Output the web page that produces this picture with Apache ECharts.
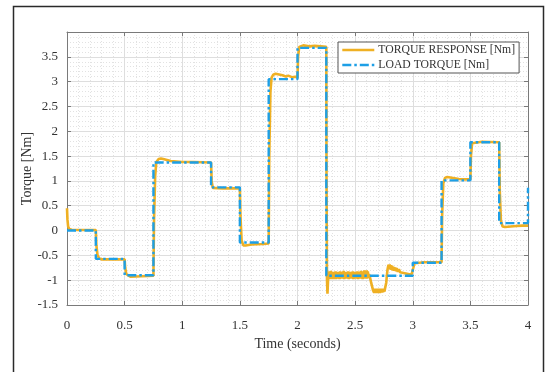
<!DOCTYPE html>
<html>
<head>
<meta charset="utf-8">
<script src="https://cdn.jsdelivr.net/npm/echarts@6/dist/echarts.min.js"></script>
<style>
html,body{margin:0;padding:0;background:#fff;}
#chart{width:547px;height:372px;}
</style>
</head>
<body>
<div id="chart"></div>
<script>
// ---- data ----
var seriesNames = ['TORQUE RESPONSE [Nm]', 'LOAD TORQUE [Nm]'];
var xTicks = [0, 0.5, 1, 1.5, 2, 2.5, 3, 3.5, 4];
var yTicks = [-1.5, -1, -0.5, 0, 0.5, 1, 1.5, 2, 2.5, 3, 3.5];

// load torque: step times and values (value holds from time until next time)
var loadTimes  = [0, 0.25, 0.5, 0.75, 1.25, 1.5, 1.75, 2.0, 2.25, 3.0, 3.25, 3.5, 3.75, 4.0];
var loadValues = [0, -0.57, -0.90, 1.37, 0.87, -0.24, 3.05, 3.68, -0.91, -0.65, 1.01, 1.78, 0.15, 0.86];

// torque response: [time, value]
var response = [
 [0,0.45],[0.004,0.22],[0.01,0.08],[0.02,0.03],[0.04,0.015],[0.1,0.01],[0.25,0.01],
 [0.255,-0.3],[0.265,-0.5],[0.28,-0.56],[0.3,-0.58],[0.4,-0.58],[0.5,-0.58],
 [0.505,-0.75],[0.515,-0.88],[0.53,-0.92],[0.55,-0.93],[0.65,-0.92],[0.75,-0.91],
 [0.755,0.2],[0.765,1.1],[0.775,1.38],[0.785,1.42],[0.795,1.44],[0.805,1.42],[0.815,1.45],[0.825,1.42],
 [0.835,1.44],[0.85,1.42],[0.9,1.40],[0.95,1.39],[1.0,1.38],[1.1,1.38],[1.25,1.37],
 [1.255,1.0],[1.265,0.86],[1.28,0.84],[1.35,0.85],[1.5,0.85],
 [1.505,0.3],[1.515,-0.2],[1.53,-0.3],[1.55,-0.3],[1.6,-0.28],[1.7,-0.27],[1.75,-0.26],
 [1.755,1.5],[1.765,2.8],[1.775,3.08],[1.78,3.09],[1.79,3.14],[1.80,3.11],[1.81,3.16],[1.82,3.12],
 [1.83,3.15],[1.84,3.11],[1.85,3.14],[1.86,3.10],[1.87,3.13],[1.90,3.10],[1.92,3.12],[1.95,3.09],[1.98,3.10],[2.0,3.08],
 [2.005,3.5],[2.015,3.70],[2.05,3.73],[2.1,3.71],[2.15,3.72],[2.2,3.71],[2.25,3.70],
 [2.252,1.0],[2.256,-1.0],[2.26,-1.27],[2.265,-1.0],
 [2.270,-0.82],[2.275,-0.98],[2.280,-0.84],[2.285,-0.97],[2.290,-0.81],[2.295,-0.98],[2.300,-0.85],[2.305,-0.96],
 [2.310,-0.83],[2.315,-0.98],[2.320,-0.84],[2.325,-0.95],[2.330,-0.82],[2.335,-0.98],[2.340,-0.86],[2.345,-0.97],
 [2.350,-0.83],[2.355,-0.96],[2.360,-0.84],[2.365,-0.98],[2.370,-0.82],[2.375,-0.95],[2.380,-0.85],[2.385,-0.97],
 [2.390,-0.83],[2.395,-0.96],[2.400,-0.81],[2.405,-0.98],[2.410,-0.84],[2.415,-0.95],[2.420,-0.83],[2.425,-0.97],
 [2.430,-0.85],[2.435,-0.96],[2.440,-0.82],[2.445,-0.98],[2.450,-0.84],[2.455,-0.95],[2.460,-0.83],[2.465,-0.97],
 [2.470,-0.84],[2.475,-0.96],[2.480,-0.82],[2.485,-0.98],[2.490,-0.85],[2.495,-0.95],[2.500,-0.83],[2.505,-0.97],
 [2.510,-0.84],[2.515,-0.96],[2.520,-0.82],[2.525,-0.98],[2.530,-0.83],[2.535,-0.95],[2.540,-0.84],[2.545,-0.97],
 [2.550,-0.81],[2.555,-0.96],[2.560,-0.83],[2.565,-0.98],[2.570,-0.82],[2.575,-0.95],[2.580,-0.80],[2.585,-0.97],
 [2.590,-0.81],[2.595,-0.96],[2.600,-0.80],[2.605,-0.97],[2.610,-0.82],[2.615,-0.95],[2.620,-0.88],
 [2.630,-0.95],[2.640,-1.06],[2.650,-1.15],[2.655,-1.20],[2.660,-1.17],[2.665,-1.25],[2.670,-1.17],[2.675,-1.26],
 [2.680,-1.18],[2.685,-1.25],[2.690,-1.17],[2.695,-1.26],[2.700,-1.18],[2.705,-1.25],[2.710,-1.17],[2.715,-1.26],
 [2.720,-1.18],[2.725,-1.25],[2.730,-1.17],[2.735,-1.25],[2.740,-1.18],[2.745,-1.24],[2.750,-1.17],[2.755,-1.23],
 [2.760,-1.16],[2.765,-1.15],[2.770,-1.05],[2.775,-0.92],[2.780,-0.80],[2.785,-0.74],[2.790,-0.69],[2.795,-0.77],
 [2.800,-0.68],[2.805,-0.78],[2.810,-0.70],[2.815,-0.79],[2.820,-0.71],[2.825,-0.80],[2.830,-0.73],[2.835,-0.81],
 [2.840,-0.74],[2.845,-0.81],[2.850,-0.75],[2.855,-0.82],[2.860,-0.76],[2.870,-0.83],[2.880,-0.78],[2.890,-0.84],
 [2.900,-0.80],[2.910,-0.85],[2.920,-0.82],[2.930,-0.86],[2.940,-0.84],[2.950,-0.87],[2.960,-0.85],[2.970,-0.88],
 [2.980,-0.86],[2.990,-0.88],[3.000,-0.88],
 [3.005,-0.75],[3.015,-0.66],[3.03,-0.64],[3.1,-0.64],[3.25,-0.64],
 [3.255,0.3],[3.265,0.95],[3.28,1.06],[3.3,1.08],[3.35,1.06],[3.4,1.04],[3.45,1.03],[3.5,1.03],
 [3.505,1.5],[3.515,1.76],[3.53,1.80],[3.6,1.79],[3.75,1.78],
 [3.755,0.8],[3.765,0.2],[3.78,0.08],[3.8,0.07],[3.85,0.08],[3.9,0.09],[3.95,0.1],[4.0,0.1]
];

// ---- build step polyline for load torque ----
var loadData = [];
for (var i = 0; i < loadTimes.length; i++) {
  if (i > 0) loadData.push([loadTimes[i], loadValues[i - 1]]);
  loadData.push([loadTimes[i], loadValues[i]]);
}

var FONT = '"Liberation Serif", "Times New Roman", serif';
var ORANGE = '#EFB023';
var BLUE = '#1D9FE6';
var AXIS = '#7a7a7a';

var chart = echarts.init(document.getElementById('chart'), null, {renderer: 'canvas'});

function fmt(v) { return String(v); }

var option = {
  animation: false,
  backgroundColor: '#fff',
  textStyle: {fontFamily: FONT},
  grid: {left: 67, top: 32, right: 19, bottom: 67, containLabel: false},
  graphic: [{
    type: 'rect', left: 11, top: 4, z: 100, silent: true,
    shape: {width: 530, height: 400},
    style: {fill: 'none', stroke: '#2a2a2a', lineWidth: 1.5}
  }],
  legend: {
    orient: 'vertical', left: 338, top: 42,
    data: seriesNames,
    itemWidth: 32, itemHeight: 12, itemGap: 3,
    padding: [2, 4, 2, 3],
    borderColor: '#555', borderWidth: 1, backgroundColor: '#fff',
    itemStyle: {opacity: 0},
    lineStyle: {width: 2.6},
    textStyle: {fontFamily: FONT, fontSize: 11.7, color: '#333', padding: [0, 0, 0, -1]}
  },
  xAxis: [{
    type: 'value', min: 0, max: 4, interval: 0.5, position: 'bottom',
    name: 'Time (seconds)', nameLocation: 'middle', nameGap: 30,
    nameTextStyle: {fontFamily: FONT, fontSize: 14, color: '#333'},
    axisLine: {show: true, onZero: false, lineStyle: {color: AXIS, width: 1}},
    axisTick: {show: true, inside: true, length: 4, lineStyle: {color: AXIS}},
    axisLabel: {fontFamily: FONT, fontSize: 13, color: '#333', margin: 14, formatter: fmt},
    splitLine: {show: true, lineStyle: {color: '#dedede', width: 1}},
    minorTick: {show: false, splitNumber: 5},
    minorSplitLine: {show: true, lineStyle: {color: '#e2e2e2', type: [1, 2], width: 1}}
  }, {
    type: 'value', min: 0, max: 4, interval: 0.5, position: 'top',
    axisLine: {show: true, onZero: false, lineStyle: {color: AXIS, width: 1}},
    axisTick: {show: true, inside: true, length: 4, lineStyle: {color: AXIS}},
    axisLabel: {show: false}, splitLine: {show: false}
  }],
  yAxis: [{
    type: 'value', min: -1.5, max: 4, interval: 0.5, position: 'left',
    name: 'Torque [Nm]', nameLocation: 'middle', nameGap: 33, nameRotate: 90,
    nameMoveOverlap: false,
    nameTextStyle: {fontFamily: FONT, fontSize: 14, color: '#333'},
    axisLine: {show: true, onZero: false, lineStyle: {color: AXIS, width: 1}},
    axisTick: {show: true, inside: true, length: 4, lineStyle: {color: AXIS}},
    axisLabel: {fontFamily: FONT, fontSize: 13, color: '#333', margin: 9, showMaxLabel: false,
      formatter: function (v) { return yTicks.indexOf(v) >= 0 ? String(v) : ''; }},
    splitLine: {show: true, lineStyle: {color: '#dedede', width: 1}},
    minorTick: {show: false, splitNumber: 5},
    minorSplitLine: {show: true, lineStyle: {color: '#e2e2e2', type: [1, 2], width: 1}}
  }, {
    type: 'value', min: -1.5, max: 4, interval: 0.5, position: 'right',
    axisLine: {show: true, onZero: false, lineStyle: {color: AXIS, width: 1}},
    axisTick: {show: true, inside: true, length: 4, lineStyle: {color: AXIS}},
    axisLabel: {show: false}, splitLine: {show: false}
  }],
  series: [{
    name: seriesNames[0], type: 'line', xAxisIndex: 0, yAxisIndex: 0,
    data: response, symbol: 'none', showSymbol: false,
    lineStyle: {color: ORANGE, width: 2.6},
    itemStyle: {color: ORANGE}, z: 2
  }, {
    name: seriesNames[1], type: 'line', xAxisIndex: 0, yAxisIndex: 0,
    data: loadData, symbol: 'none', showSymbol: false,
    lineStyle: {color: BLUE, width: 2.4, type: [9, 3, 2.5, 3]},
    itemStyle: {color: BLUE}, z: 3
  }]
};
chart.setOption(option);
</script>
</body>
</html>
